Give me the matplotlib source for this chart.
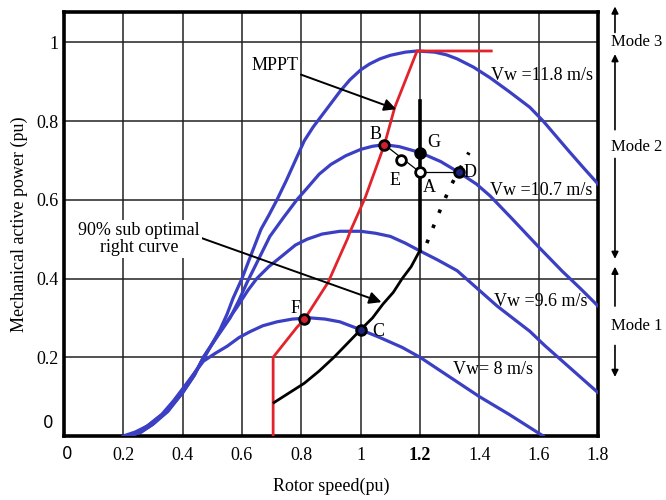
import numpy as np
import matplotlib
matplotlib.use("Agg")
import matplotlib.pyplot as plt

plt.rcParams['font.family'] = ['Liberation Serif', 'DejaVu Serif']

# Vw = 11.8 m/s
x118 = [0.22, 0.26, 0.30, 0.35, 0.40, 0.44, 0.47, 0.50, 0.526, 0.55, 0.57, 0.60, 0.627,
        0.664, 0.69, 0.718, 0.75, 0.78, 0.81, 0.84, 0.87, 0.90, 0.93, 0.964, 1.0, 1.03,
        1.065, 1.10, 1.15, 1.19, 1.25, 1.29, 1.325, 1.38, 1.436, 1.50, 1.57, 1.615, 1.70,
        1.75, 1.80]
y118 = [0.0, 0.01, 0.03, 0.065, 0.11, 0.155, 0.20, 0.235, 0.27, 0.31, 0.35, 0.40, 0.453,
        0.525, 0.56, 0.60, 0.65, 0.70, 0.75, 0.785, 0.815, 0.845, 0.875, 0.905, 0.93, 0.945,
        0.958, 0.967, 0.975, 0.978, 0.975, 0.968, 0.958, 0.937, 0.91, 0.875, 0.835, 0.80,
        0.725, 0.682, 0.64]

# Vw = 10.7 m/s
x107 = [0.22, 0.26, 0.30, 0.35, 0.40, 0.44, 0.47, 0.51, 0.56, 0.59, 0.617, 0.65, 0.694,
        0.74, 0.785, 0.82, 0.86, 0.90, 0.95, 1.0, 1.04, 1.08, 1.13, 1.20, 1.27, 1.33, 1.39,
        1.436, 1.51, 1.60, 1.68, 1.74, 1.80]
y107 = [0.0, 0.01, 0.03, 0.062, 0.11, 0.155, 0.20, 0.245, 0.30, 0.345, 0.39, 0.44, 0.507,
        0.555, 0.60, 0.63, 0.665, 0.69, 0.712, 0.728, 0.736, 0.74, 0.735, 0.72, 0.697, 0.67,
        0.64, 0.61, 0.552, 0.48, 0.418, 0.375, 0.33]

# Vw = 9.6 m/s
x96 = [0.21, 0.25, 0.29, 0.34, 0.40, 0.44, 0.47, 0.50, 0.53, 0.583, 0.62, 0.65, 0.69,
       0.728, 0.78, 0.82, 0.87, 0.93, 1.0, 1.05, 1.10, 1.15, 1.20, 1.26, 1.325, 1.40, 1.46,
       1.52, 1.57, 1.62, 1.68, 1.74, 1.80]
y96 = [0.0, 0.01, 0.03, 0.06, 0.115, 0.16, 0.195, 0.235, 0.27, 0.327, 0.37, 0.40, 0.43,
       0.453, 0.485, 0.50, 0.513, 0.52, 0.52, 0.515, 0.507, 0.49, 0.47, 0.447, 0.42, 0.37,
       0.33, 0.295, 0.266, 0.23, 0.19, 0.15, 0.11]

# Vw = 8 m/s
x8 = [0.20, 0.24, 0.28, 0.33, 0.37, 0.40, 0.44, 0.47, 0.51, 0.55, 0.59, 0.627, 0.67,
      0.718, 0.77, 0.83, 0.88, 0.93, 1.0, 1.065, 1.14, 1.20, 1.30, 1.40, 1.50, 1.615]
y8 = [0.0, 0.01, 0.025, 0.055, 0.09, 0.12, 0.16, 0.19, 0.21, 0.228, 0.25, 0.265, 0.28,
      0.29, 0.297, 0.30, 0.297, 0.29, 0.27, 0.25, 0.225, 0.20, 0.15, 0.10, 0.055, 0.0]

# MPPT trajectory
x_mppt = [0.705, 0.705, 0.785, 0.81, 0.89, 0.955, 0.965, 1.015, 1.08, 1.115, 1.19, 1.44]
y_mppt = [0.0, 0.20, 0.276, 0.296, 0.39, 0.50, 0.52, 0.605, 0.74, 0.835, 0.978, 0.978]

# 90% sub optimal right curve
x_sub = [0.708, 0.76, 0.81, 0.86, 0.91, 0.955, 1.0, 1.04, 1.075, 1.11, 1.14, 1.17, 1.195, 1.20]
y_sub = [0.085, 0.11, 0.134, 0.165, 0.20, 0.235, 0.27, 0.30, 0.335, 0.365, 0.40, 0.43, 0.465, 0.47]

# vertical limit at 1.2 pu
x_vert = [1.2, 1.2]
y_vert = [0.47, 0.85]

# dotted curve
x_dot = [1.223, 1.26, 1.30, 1.335, 1.365]
y_dot = [0.49, 0.56, 0.63, 0.68, 0.72]

# operating points
pts = {'B': (1.08, 0.74), 'E': (1.136, 0.70), 'A': (1.2, 0.67), 'G': (1.2, 0.72),
       'D': (1.33, 0.67), 'F': (0.81, 0.296), 'C': (1.0, 0.27)}
pt_face = {'B': '#d02030', 'E': 'white', 'A': 'white', 'G': 'black',
           'D': '#1a237e', 'F': '#d02030', 'C': '#1a237e'}
pt_label = {'B': (1.05, 0.765), 'E': (1.115, 0.65), 'A': (1.23, 0.63), 'G': (1.245, 0.745),
            'D': (1.37, 0.67), 'F': (0.78, 0.325), 'C': (1.06, 0.265)}

xticks = [0.2, 0.4, 0.6, 0.8, 1.0, 1.2, 1.4, 1.6, 1.8]
xtick_labels = ['0.2', '0.4', '0.6', '0.8', '1', '1.2', '1.4', '1.6', '1.8']
yticks = [0.2, 0.4, 0.6, 0.8, 1.0]
ytick_labels = ['0.2', '0.4', '0.6', '0.8', '1']

blue = '#3b3fc4'
red = '#e3232c'

fig = plt.figure(figsize=(6.66, 5), dpi=100)
ax = fig.add_axes([0.096, 0.128, 0.802, 0.848])

ax.set_xlim(0, 1.8)
ax.set_ylim(0, 1.077)
ax.set_xticks(xticks)
ax.set_xticklabels(xtick_labels, fontsize=13)
ax.set_yticks(yticks)
ax.set_yticklabels(ytick_labels, fontsize=13)
for lab in ax.get_xticklabels():
    if lab.get_text() == '1.2':
        lab.set_fontweight('bold')
ax.tick_params(length=0, pad=8)
ax.tick_params(axis='y', pad=4)
ax.grid(True, color='#222222', linewidth=1.1)
ax.set_axisbelow(True)
for s in ax.spines.values():
    s.set_linewidth(2.6)

# the "0" labels are in a sans font in the original
ax.text(-0.035, 0.033, '0', fontsize=12, family='DejaVu Sans', ha='right', va='center')
ax.text(0.01, -0.045, '0', fontsize=12, family='DejaVu Sans', ha='center', va='center')

for xs, ys in [(x118, y118), (x107, y107), (x96, y96), (x8, y8)]:
    ax.plot(xs, ys, color=blue, linewidth=2.3, zorder=3, solid_joinstyle='round')

ax.plot(x_mppt, y_mppt, color=red, linewidth=2.0, zorder=4)
ax.plot(x_sub, y_sub, color='black', linewidth=2.0, zorder=4, solid_joinstyle='round')
ax.plot(x_vert, y_vert, color='black', linewidth=2.6, zorder=4)
ax.plot(x_dot, y_dot, color='black', linestyle=(0, (1, 3.5)), linewidth=2.6, zorder=4)

# B -> E -> A and A -> D
ax.plot([pts['B'][0], pts['A'][0]], [pts['B'][1], pts['A'][1]], color='black', linewidth=0.9, zorder=4)
ax.plot([pts['A'][0], pts['D'][0]], [pts['A'][1], pts['D'][1]], color='black', linewidth=0.9, zorder=4)

for k, (px, py) in pts.items():
    ax.plot(px, py, marker='o', markersize=7, markerfacecolor=pt_face[k],
            markeredgecolor='black', markeredgewidth=2.0, zorder=6)
    lx, ly = pt_label[k]
    ax.text(lx, ly, k, fontsize=13, ha='center', va='center', zorder=7)

# wind speed labels
ax.text(1.44, 0.916, 'Vw =11.8 m/s', fontsize=13, ha='left', va='center', zorder=7)
ax.text(1.436, 0.623, 'Vw =10.7 m/s', fontsize=13, ha='left', va='center', zorder=7)
ax.text(1.45, 0.342, 'Vw =9.6 m/s', fontsize=13, ha='left', va='center', zorder=7)
ax.text(1.31, 0.17, 'Vw= 8 m/s', fontsize=13, ha='left', va='center', zorder=7)

# annotations with arrows
ax.annotate('MPPT', xy=(1.12, 0.83), xytext=(0.71, 0.94), fontsize=13,
            ha='center', va='center', zorder=8,
            arrowprops=dict(arrowstyle='-|>', color='black', lw=1.4,
                            mutation_scale=18, shrinkA=0, shrinkB=0,
                            relpos=(0.95, 0.1)))
ax.annotate('90% sub optimal\nright curve', xy=(1.07, 0.34), xytext=(0.253, 0.50),
            fontsize=13, ha='center', va='center', zorder=8, linespacing=1.0,
            bbox=dict(boxstyle='square,pad=0.1', fc='white', ec='none'),
            arrowprops=dict(arrowstyle='-|>', color='black', lw=1.4,
                            mutation_scale=18, shrinkA=0, shrinkB=0,
                            relpos=(1.0, 0.55)))

# operating mode markers at the right
xm = 1.857
arr = dict(arrowstyle='-|>', color='black', lw=1.2, mutation_scale=10, shrinkA=0, shrinkB=0)
modes = [('Mode 3', 1.0, 1.025, 1.091, None, None),
         ('Mode 2', 0.735, 0.778, 0.97, 0.705, 0.45),
         ('Mode 1', 0.28, 0.33, 0.43, 0.23, 0.15)]
for name, yt, y_lo, y_hi, y_top2, y_bot2 in modes:
    ax.annotate('', xy=(xm, y_hi), xytext=(xm, y_lo), arrowprops=arr, annotation_clip=False)
    if y_top2 is not None:
        ax.annotate('', xy=(xm, y_bot2), xytext=(xm, y_top2), arrowprops=arr, annotation_clip=False)
    ax.text(xm - 0.015, yt, name, fontsize=12, ha='left', va='center', clip_on=False)

ax.set_xlabel('Rotor speed(pu)', fontsize=13, labelpad=10)
ax.set_ylabel('Mechanical active power (pu)', fontsize=13, labelpad=6)

fig.savefig('out.png', dpi=100)
